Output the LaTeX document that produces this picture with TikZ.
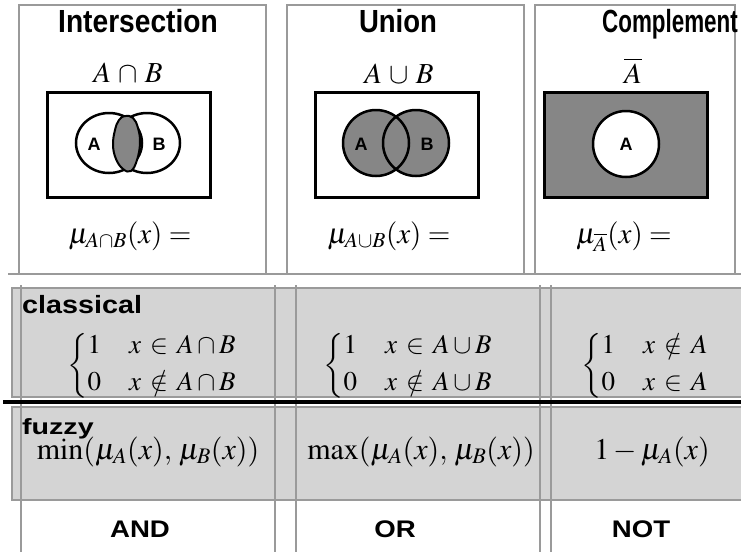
\documentclass[tikz,border=0pt]{standalone}
\usepackage{mathptmx}
\usepackage{fontspec}
\setmainfont{Liberation Serif}
\setsansfont{Liberation Sans}
\definecolor{lgray}{HTML}{9A9A9A}
\definecolor{boxfill}{HTML}{D4D4D4}
\definecolor{vshade}{HTML}{868686}
\begin{document}
\begin{tikzpicture}[x=1pt,y=-1pt,
  hd/.style={font=\sffamily\bfseries\fontsize{32}{34}\selectfont, anchor=base, inner sep=0pt},
  rowlbl/.style={font=\sffamily\bfseries\fontsize{25}{27}\selectfont, anchor=base west, inner sep=0pt},
  opname/.style={font=\sffamily\bfseries\fontsize{24}{26}\selectfont, anchor=base, inner sep=0pt},
  mth/.style={font=\fontsize{29}{32}\selectfont, anchor=base, inner sep=0pt},
  fz/.style={font=\fontsize{30}{32}\selectfont, anchor=base, inner sep=0pt},
  cases/.style={font=\fontsize{27}{31}\selectfont, anchor=center, inner sep=0pt},
  setlbl/.style={font=\sffamily\bfseries\fontsize{18}{18}\selectfont, inner sep=0pt},
  vframe/.style={draw=black, line width=3pt},
  vcirc/.style={draw=black, line width=2.5pt},
  gline/.style={draw=lgray, line width=2.5pt}]
\useasboundingbox (0,0) rectangle (741,552);
\fill[white] (0,0) rectangle (741,552);

% ---------- top panels ----------
\draw[gline] (19,274) -- (19,5) -- (266,5) -- (266,274);
\draw[gline] (287,274) -- (287,5) -- (524,5) -- (524,274);
\draw[gline] (535,274) -- (535,5) -- (735,5) -- (735,274);
\draw[gline] (8,274) -- (741,274);

\node[hd] (hInt) at (138,32) {\scalebox{0.88}[1]{Intersection}};
\node[hd] (hUni) at (398,32) {\scalebox{0.86}[1]{Union}};
\node[hd] (hCom) at (670,32) {\scalebox{0.7}[1]{Complement}};

\node[mth] (sInt) at (128,82) {$A\mathbin{\,\cap\,}B$};
\node[mth] (sUni) at (399,83) {$A\mathbin{\,\cup\,}B$};
\node[mth] (sCom) at (633,83) {$\overline{A}$};

% intersection venn
\draw[vframe] (47,92) rectangle (210,197);
\draw[vcirc] (109,143) ellipse [x radius=33, y radius=30];
\draw[vcirc] (147,143) ellipse [x radius=33, y radius=30];
\draw[fill=vshade, draw=black, line width=2pt] plot[smooth cycle, tension=0.7] coordinates
  {(125,116) (133,118) (138,128) (140,143) (137,160) (131,171) (123,169) (116,159) (113,145) (115,130) (119,120)};
\node[setlbl] (iA) at (94,144) {A};
\node[setlbl] (iB) at (159,144) {B};

% union venn
\draw[vframe] (315,92) rectangle (478,197);
\fill[vshade] (376,143) ellipse [x radius=33, y radius=33];
\fill[vshade] (416,143) ellipse [x radius=33, y radius=33];
\draw[vcirc] (376,143) ellipse [x radius=33, y radius=33];
\draw[vcirc] (416,143) ellipse [x radius=33, y radius=33];
\node[setlbl] (uA) at (361,144) {A};
\node[setlbl] (uB) at (427,144) {B};

% complement venn
\draw[vframe, fill=vshade] (544,92) rectangle (707,197);
\draw[vcirc, fill=white] (626,144) ellipse [x radius=33, y radius=33];
\node[setlbl] (cA) at (626,144) {A};

\node[mth] (mInt) at (130,243) {$\mu_{A\cap B}(x) =$};
\node[mth] (mUni) at (389,243) {$\mu_{A\cup B}(x) =$};
\node[mth] (mCom) at (624,243) {$\mu_{\overline{A}}(x) =$};

% ---------- classical / fuzzy rows ----------
\draw[draw=lgray, line width=2pt, fill=boxfill] (12,288) rectangle (760,397);
\draw[draw=lgray, line width=2pt, fill=boxfill] (12,407) rectangle (760,500);
\foreach \xx in {21,275,296,540,551}
  \draw[gline] (\xx,285) -- (\xx,552);
\draw[black, line width=3.5pt] (3,402) -- (741,402);

\node[rowlbl] (lCl) at (22,313) {\scalebox{1.15}[1]{classical}};
\node[rowlbl] (lFu) at (22,434) {\scalebox{1.3}[1]{\fontsize{22}{24}\selectfont fuzzy}};

\node[cases] (c1) at (152,366) {$\left\{\begin{array}{@{}l@{\hspace{28pt}}l@{}}1 & x \mathrel{\,\in\,} A\cap B\\[6pt] 0 & x \mathrel{\,\notin\,} A\cap B\end{array}\right.$};
\node[cases] (c2) at (408,366) {$\left\{\begin{array}{@{}l@{\hspace{28pt}}l@{}}1 & x \mathrel{\,\in\,} A\cup B\\[6pt] 0 & x \mathrel{\,\notin\,} A\cup B\end{array}\right.$};
\node[cases] (c3) at (645,366) {$\left\{\begin{array}{@{}l@{\hspace{28pt}}l@{}}1 & x \mathrel{\,\notin\,} A\\[6pt] 0 & x \mathrel{\,\in\,} A\end{array}\right.$};

\node[fz] (f1) at (148,459) {$\min(\mu_A(x),\, \mu_B(x))$};
\node[fz] (f2) at (421,459) {$\max(\mu_A(x),\, \mu_B(x))$};
\node[fz] (f3) at (652,459) {$1-\mu_A(x)$};

\node[opname] (oAnd) at (140,537) {\scalebox{1.15}[1]{AND}};
\node[opname] (oOr) at (395,537) {\scalebox{1.15}[1]{OR}};
\node[opname] (oNot) at (641,537) {\scalebox{1.15}[1]{NOT}};
\end{tikzpicture}
\end{document}
